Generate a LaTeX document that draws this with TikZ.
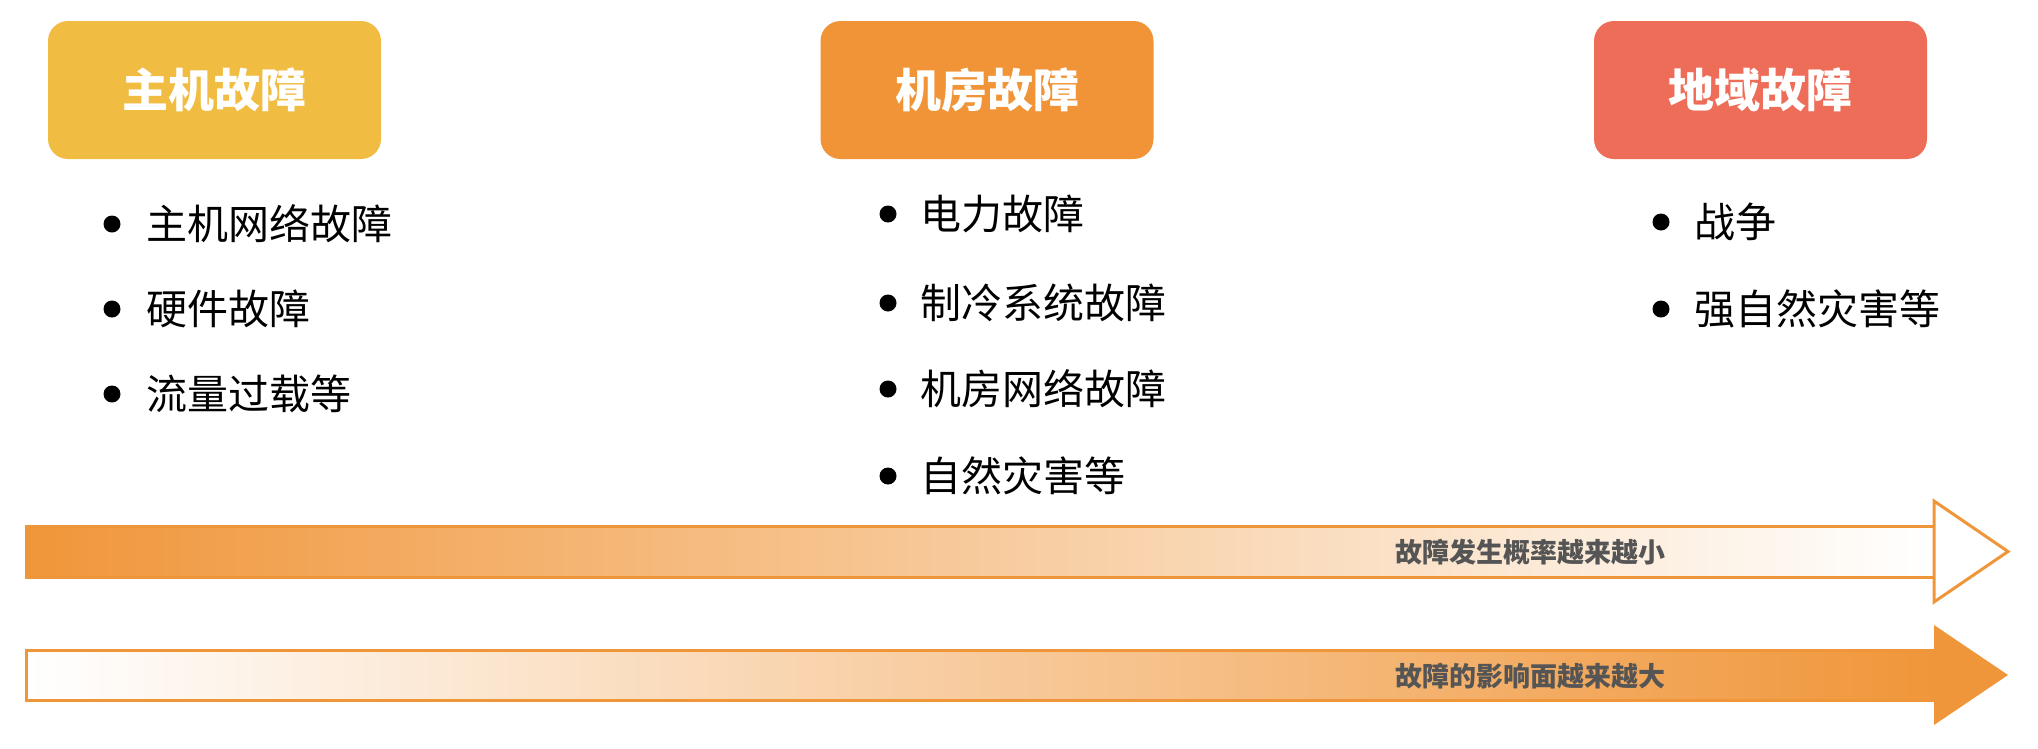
\documentclass[tikz,border=0pt]{standalone}
\usepackage{fontspec}
\setmainfont{Noto Sans CJK SC}
\definecolor{cA}{HTML}{F0BC42}
\definecolor{cB}{HTML}{F09437}
\definecolor{cC}{HTML}{EE6D58}
\definecolor{arr}{HTML}{F0963A}
\definecolor{lab}{HTML}{555555}
\tikzset{
 titlebox/.style={rounded corners=20pt, minimum width=333pt, minimum height=138pt, text=white, font=\fontsize{46}{52}\selectfont\bfseries, inner sep=0pt},
 dot/.style={circle, fill=black, minimum size=17pt, inner sep=0pt},
 item/.style={anchor=west, font=\fontsize{41}{48}\selectfont, inner sep=0pt},
 arrlabel/.style={font=\fontsize{27}{32}\selectfont\bfseries, text=lab, inner sep=0pt},
 arrline/.style={draw=arr, line width=3pt, line join=miter}
}
\begin{document}
\begin{tikzpicture}[x=1pt,y=-1pt]
\useasboundingbox (0,0) rectangle (2038,748);
% title boxes
\node[titlebox, fill=cA] (t1) at (214.5,90) {主机故障};
\node[titlebox, fill=cB] (t2) at (987,90) {机房故障};
\node[titlebox, fill=cC] (t3) at (1760.5,90) {地域故障};
% column 1
\node[dot] (d11) at (112,224) {};
\node[item] (i11) at (146,224) {主机网络故障};
\node[dot] (d12) at (112,309) {};
\node[item] (i12) at (146,309) {硬件故障};
\node[dot] (d13) at (112,394) {};
\node[item] (i13) at (146,394) {流量过载等};
% column 2
\node[dot] (d21) at (888,214) {};
\node[item] (i21) at (920,214) {电力故障};
\node[dot] (d22) at (888,303) {};
\node[item] (i22) at (920,303) {制冷系统故障};
\node[dot] (d23) at (888,389) {};
\node[item] (i23) at (920,389) {机房网络故障};
\node[dot] (d24) at (888,476) {};
\node[item] (i24) at (920,476) {自然灾害等};
% column 3
\node[dot] (d31) at (1661,222) {};
\node[item] (i31) at (1694,222) {战争};
\node[dot] (d32) at (1661,309) {};
\node[item] (i32) at (1694,309) {强自然灾害等};
% top arrow
\shade[left color=arr, right color=white] (26,526) rectangle (1934,577);
\draw[arrline] (26,526) rectangle (1934,577);
\fill[white] (1934,501) -- (2008,551.5) -- (1934,602) -- cycle;
\draw[arrline] (1934,501) -- (2008,551.5) -- (1934,602) -- cycle;
\node[arrlabel] (l1) at (1530,552) {故障发生概率越来越小};
% bottom arrow
\shade[left color=white, right color=arr] (26,650) rectangle (1934,700);
\draw[arrline] (26,650) rectangle (1934,700);
\fill[arr] (1934,625) -- (2008,675) -- (1934,725) -- cycle;
\node[arrlabel] (l2) at (1530,676) {故障的影响面越来越大};
\end{tikzpicture}
\end{document}
